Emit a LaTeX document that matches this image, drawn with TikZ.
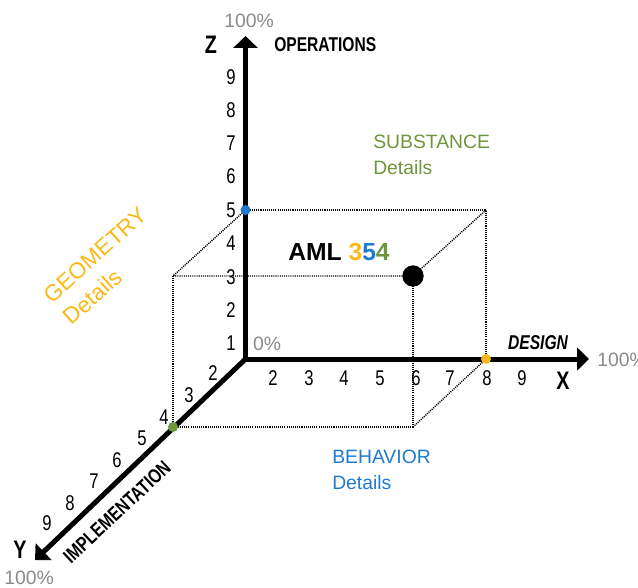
\documentclass[tikz,border=0pt]{standalone}
\usepackage{fontspec}
\setmainfont{Liberation Sans}
\newfontfamily\condfont[FakeStretch=0.78]{Liberation Sans}
\usepackage{xcolor}
\usetikzlibrary{arrows.meta}

\definecolor{geoyellow}{HTML}{FBB917}
\definecolor{behblue}{HTML}{1F7BD0}
\definecolor{subgreen}{HTML}{6E963A}
\definecolor{pctgray}{HTML}{8A8A8A}

\begin{document}
\begin{tikzpicture}[
    x=0.75pt, y=-0.75pt,
    axis/.style={line width=3.75pt, line join=miter},
    guide/.style={line width=1.1pt, dash pattern=on 0.8pt off 0.8pt},
    num/.style={inner sep=0, font=\condfont\fontsize{16}{18}\selectfont},
    pct/.style={inner sep=0, text=pctgray, font=\fontsize{14.5}{17}\selectfont},
    axname/.style={inner sep=0, font=\condfont\bfseries\fontsize{15}{18}\selectfont},
    axletter/.style={inner sep=0, font=\condfont\bfseries\fontsize{19}{22}\selectfont},
    detail/.style={inner sep=0, align=left, font=\fontsize{14.5}{19.5}\selectfont},
    dotnode/.style={circle, inner sep=0, minimum size=7.5pt}
]
\useasboundingbox (0,0) rectangle (638,588);

% axes
\coordinate (O) at (245.5,359);
\coordinate (ztip) at (245.5,36);
\coordinate (xtip) at (589,359);
\coordinate (ytip) at (35,560);
\draw[axis, {Triangle[width=18pt,length=9pt]}-{Triangle[width=17pt,length=9pt]}] (ztip) -- (O) -- (xtip);
\draw[axis, -{Triangle[width=17pt,length=9pt]}] (O) -- (ytip);

% box corners
\coordinate (bz) at (245.5,210);
\coordinate (btr) at (486,210);
\coordinate (bx) at (486,359);
\coordinate (ftl) at (173,276);
\coordinate (ftr) at (413,276);
\coordinate (fy) at (173,427);
\coordinate (fbr) at (413,427);
\draw[guide] (bz) -- (btr) -- (bx);
\draw[guide] (bz) -- (ftl) -- (ftr);
\draw[guide] (ftl) -- (fy) -- (fbr) -- (ftr);
\draw[guide] (btr) -- (ftr);
\draw[guide] (fbr) -- (bx);

\node[dotnode, fill=behblue] (zdot) at (bz) {};
\node[dotnode, fill=geoyellow] (xdot) at (bx) {};
\node[dotnode, fill=subgreen] (ydot) at (fy) {};
\node[circle, fill=black, inner sep=0, minimum size=16pt] (aml) at (ftr) {};

% scale numbers
\foreach \v/\py in {1/343,2/310,3/277,4/243,5/210,6/176,7/143,8/110,9/77}
    \node[num] (z\v) at (231,\py) {\v};
\foreach \v/\px in {2/273,3/309,4/344,5/380,6/416,7/450,8/487,9/522}
    \node[num] (x\v) at (\px,378) {\v};
\foreach \v/\px/\py in {2/213/373,3/189/395,4/164/417,5/142/438,6/117/460,7/94/481,8/70/503,9/47/523}
    \node[num] (y\v) at (\px,\py) {\v};

% axis names
\node[axletter] (zname) at (211,45) {Z};
\node[axname, anchor=west] (ops) at (274,45) {OPERATIONS};
\node[pct] (ztop) at (249,21) {100\%};
\node[pct] (zero) at (267,344) {0\%};
\node[axname, font=\condfont\bfseries\itshape\fontsize{15}{18}\selectfont] (design) at (538,343) {DESIGN};
\node[axletter] (xname) at (563,381) {X};
\node[pct, anchor=west] (xend) at (597,360) {100\%};
\node[axletter] (yname) at (20,550) {Y};
\node[pct] (yend) at (29,578) {100\%};
\node[axname, rotate=43] (impl) at (117,512) {IMPLEMENTATION};

% labels
\node[anchor=west, inner sep=0, font=\bfseries\fontsize{18.5}{22}\selectfont] (amltext) at (288,252)
    {AML \textcolor{geoyellow}{3}\textcolor{behblue}{5}\textcolor{subgreen}{4}};
\node[detail, text=subgreen, anchor=west] (subst) at (373,155) {SUBSTANCE\\Details};
\node[detail, text=behblue, anchor=west] (behav) at (332,470) {BEHAVIOR\\Details};
\node[detail, text=geoyellow, rotate=42, font=\fontsize{17}{22}\selectfont] (geom) at (105,266) {GEOMETRY\\Details};
\end{tikzpicture}
\end{document}
